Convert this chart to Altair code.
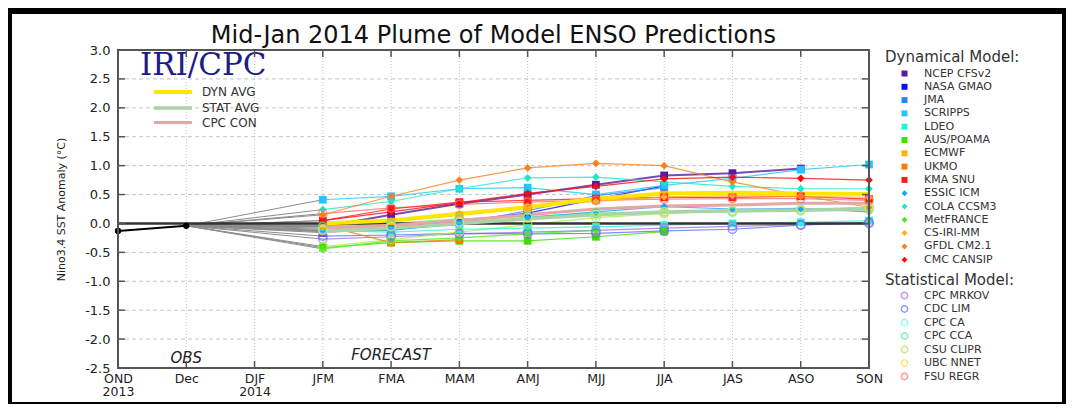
import altair as alt
import pandas as pd

# ---------------- data ----------------
seasons = ["OND", "Dec", "DJF", "JFM", "FMA", "MAM", "AMJ", "MJJ", "JJA", "JAS", "ASO", "SON"]
fc_seasons = ["JFM", "FMA", "MAM", "AMJ", "MJJ", "JJA", "JAS", "ASO", "SON"]
obs_seasons = ["OND", "Dec"]
obs_values = [-0.13, -0.04]
y_ticks = [-2.5, -2.0, -1.5, -1.0, -0.5, 0.0, 0.5, 1.0, 1.5, 2.0, 2.5, 3.0]
title_text = "Mid-Jan 2014 Plume of Model ENSO Predictions"

v = None
dyn_models = ["NCEP CFSv2", "NASA GMAO", "JMA", "SCRIPPS", "LDEO", "AUS/POAMA", "ECMWF", "UKMO",
              "KMA SNU", "ESSIC ICM", "COLA CCSM3", "MetFRANCE", "CS-IRI-MM", "GFDL CM2.1", "CMC CANSIP"]
dyn_colors = ["#5b1a9e", "#0b0bff", "#2f80ff", "#22c4ff", "#2ff0d6", "#3fe000", "#ffb300", "#ff7a00",
              "#ff1a1a", "#1aa8ff", "#1ee8c4", "#4ae81e", "#ffb020", "#ff7f1e", "#ff0a0a"]
dyn_shapes = ["square"] * 9 + ["diamond"] * 6
ncep_cfsv2 = [-0.06, 0.15, 0.34, 0.50, 0.67, 0.83, 0.87, 0.95, v]
nasa_gmao = [-0.16, -0.06, 0.04, 0.18, 0.42, 0.65, v, v, v]
jma = [-0.13, -0.12, 0.00, 0.22, 0.48, 0.62, v, v, v]
scripps = [0.41, 0.47, 0.60, 0.62, 0.50, 0.66, 0.78, 0.93, 1.02]
ldeo = [-0.12, -0.15, -0.10, -0.08, -0.06, -0.03, 0.00, 0.02, 0.05]
aus_poama = [-0.42, -0.33, -0.30, -0.30, -0.23, -0.14, v, v, v]
ecmwf = [-0.04, 0.03, 0.14, 0.26, 0.40, 0.50, v, v, v]
ukmo = [-0.03, -0.33, -0.28, v, v, v, v, v, v]
kma_snu = [0.05, 0.25, 0.37, 0.40, 0.43, 0.45, 0.45, 0.47, 0.42]
essic_icm = [-0.14, -0.10, -0.02, 0.10, 0.20, 0.29, 0.25, 0.26, 0.20]
cola_ccsm3 = [0.24, 0.38, 0.60, 0.79, 0.80, 0.72, 0.64, 0.60, 0.60]
metfrance = [-0.44, -0.30, -0.25, -0.18, -0.12, v, v, v, v]
cs_iri_mm = [-0.05, 0.04, 0.17, 0.30, 0.38, 0.46, 0.48, 0.47, 0.45]
gfdl_cm21 = [0.15, 0.47, 0.75, 0.96, 1.04, 1.00, 0.72, 0.48, 0.28]
cmc_cansip = [0.05, 0.20, 0.36, 0.52, 0.64, 0.77, 0.80, 0.78, 0.75]
dyn_values = [ncep_cfsv2, nasa_gmao, jma, scripps, ldeo, aus_poama, ecmwf, ukmo, kma_snu,
              essic_icm, cola_ccsm3, metfrance, cs_iri_mm, gfdl_cm21, cmc_cansip]

stat_models = ["CPC MRKOV", "CDC LIM", "CPC CA", "CPC CCA", "CSU CLIPR", "UBC NNET", "FSU REGR"]
stat_colors = ["#a070e0", "#6070ff", "#70f0ff", "#40f0a0", "#a0f050", "#ffd850", "#ff7070"]
cpc_mrkov = [-0.27, -0.23, -0.18, -0.15, -0.12, -0.08, -0.05, -0.02, 0.00]
cdc_lim = [-0.22, -0.20, -0.17, -0.18, -0.17, -0.13, -0.10, -0.03, 0.02]
cpc_ca = [-0.10, -0.06, 0.02, 0.10, 0.15, 0.20, 0.22, 0.25, 0.28]
cpc_cca = [-0.05, 0.00, 0.08, 0.12, 0.18, 0.20, 0.20, 0.22, 0.25]
csu_clipr = [-0.40, -0.28, -0.15, -0.02, 0.10, 0.17, 0.22, 0.23, 0.28]
ubc_nnet = [-0.12, -0.05, 0.03, 0.10, 0.15, 0.20, 0.22, 0.23, 0.25]
fsu_regr = [0.17, 0.27, 0.33, 0.37, 0.40, 0.42, 0.43, 0.43, 0.40]
stat_values = [cpc_mrkov, cdc_lim, cpc_ca, cpc_cca, csu_clipr, ubc_nnet, fsu_regr]

avg_names = ["DYN AVG", "STAT AVG", "CPC CON"]
avg_colors = ["#ffe600", "#a8d4a8", "#e6a6a6"]
avg_widths = [4, 3, 2]
dyn_avg = [0.00, 0.05, 0.17, 0.28, 0.43, 0.52, 0.53, 0.52, 0.51]
stat_avg = [-0.14, -0.08, 0.00, 0.08, 0.15, 0.20, 0.22, 0.23, 0.25]
cpc_con = [-0.08, -0.03, 0.05, 0.15, 0.25, 0.30, 0.32, 0.35, 0.35]
avg_values = [dyn_avg, stat_avg, cpc_con]

# ---------------- tables ----------------
def long_table(names, values, colors):
    rows = []
    for n, vals, c in zip(names, values, colors):
        for s, val in zip(fc_seasons, vals):
            if val is not None:
                rows.append({"model": n, "season": s, "value": val, "col": c,
                             "w": 2.0 if n == "NCEP CFSv2" else 1.2})
    return pd.DataFrame(rows)

dyn_df = long_table(dyn_models, dyn_values, dyn_colors)
stat_df = long_table(stat_models, stat_values, stat_colors)
avg_df = long_table(avg_names, avg_values, avg_colors)

conn_rows = []
for n, vals in zip(dyn_models + stat_models + avg_names, dyn_values + stat_values + avg_values):
    conn_rows.append({"model": n, "season": obs_seasons[-1], "value": obs_values[-1]})
    conn_rows.append({"model": n, "season": fc_seasons[0], "value": vals[0]})
conn_df = pd.DataFrame(conn_rows)
obs_df = pd.DataFrame({"season": obs_seasons, "value": obs_values})

inner_seasons = seasons[1:-1]
inner_y = y_ticks[1:-1]
vgrid_df = pd.DataFrame({"season": inner_seasons, "lo": y_ticks[0], "hi": y_ticks[-1]})
hgrid_df = pd.DataFrame({"value": [t for t in inner_y if t != 0.0], "a": seasons[0], "b": seasons[-1]})
vtick_df = pd.DataFrame({"season": inner_seasons, "lo": y_ticks[0], "hi": y_ticks[-1]})
htick_df = pd.DataFrame({"value": inner_y, "a": seasons[0], "b": seasons[-1]})
zero_df = pd.DataFrame({"season": [seasons[0], seasons[-1]], "value": [0.0, 0.0]})
frame_df = pd.DataFrame({"a": [seasons[0]], "b": [seasons[-1]], "lo": [y_ticks[0]], "hi": [y_ticks[-1]]})
note_df = pd.DataFrame({"season": ["Dec", "FMA"], "value": [-2.33, -2.27], "t": ["OBS", "FORECAST"]})
logo_df = pd.DataFrame({"season": ["OND"], "value": [2.72], "t": ["IRI/CPC"]})
title_df = pd.DataFrame({"season": ["MAM"], "value": [3.0], "t": [title_text]})

# ---------------- encodings ----------------
W, H = 751, 318
xs = alt.Scale(type="point", domain=seasons, padding=0)
ys = alt.Scale(domain=[-2.5, 3.0], nice=False, zero=False)
x_axis = alt.Axis(title=None, labelAngle=0, ticks=False, domain=False, grid=False, zindex=2,
                  labelFontSize=12.5, labelColor="#222", labelPadding=4, labelBaseline="top",
                  labelLineHeight=13,
                  labelExpr="datum.value == 'OND' ? ['OND', '2013'] : (datum.value == 'DJF' ? ['DJF', '2014'] : datum.value)")
y_axis = alt.Axis(title="Nino3.4 SST Anomaly (°C)", values=y_ticks, ticks=False, domain=False, grid=False,
                  zindex=2, labelFontSize=13, labelColor="#222", labelPadding=8,
                  labelExpr="replace(format(datum.value, '.1f'), '\u2212', '-')",
                  titleFontSize=11, titleFontWeight="normal", titleColor="#222",
                  titleX=-57, titleY=H / 2, titleAngle=-90, titleAlign="center", titleBaseline="middle")

def X(f):
    return alt.X(f"{f}:N", scale=xs, axis=x_axis)

def Y(f):
    return alt.Y(f"{f}:Q", scale=ys, axis=y_axis)

# ---------------- layers ----------------
bg = alt.Chart(pd.DataFrame({"k": [0]})).mark_rect(color="white").encode(
    x=alt.value(-106), x2=alt.value(944), y=alt.value(-36), y2=alt.value(352))

title = alt.Chart(title_df).mark_text(fontSize=24, color="#111", align="center",
                                      baseline="alphabetic", dx=34, dy=-7).encode(
    x=X("season"), y=Y("value"), text="t:N")

vgrid = alt.Chart(vgrid_df).mark_rule(color="#c4c4c4", strokeDash=[1, 2], strokeWidth=1).encode(
    x=X("season"), y=Y("lo"), y2=alt.Y2("hi"))
hgrid = alt.Chart(hgrid_df).mark_rule(color="#c4c4c4", strokeDash=[4, 3], strokeWidth=1).encode(
    x=X("a"), x2=alt.X2("b"), y=Y("value"))

conn = alt.Chart(conn_df).mark_line(color="#8c8c8c", strokeWidth=1).encode(
    x=X("season"), y=Y("value"), detail="model:N")

stat_lines = alt.Chart(stat_df).mark_line(opacity=0.8).encode(
    x=X("season"), y=Y("value"), detail="model:N",
    color=alt.Color("col:N", scale=None), strokeWidth=alt.StrokeWidth("w:Q", scale=None))
dyn_lines = alt.Chart(dyn_df).mark_line(opacity=0.8).encode(
    x=X("season"), y=Y("value"), detail="model:N",
    color=alt.Color("col:N", scale=None), strokeWidth=alt.StrokeWidth("w:Q", scale=None))

avg_legend = alt.Legend(title=None, orient="none", legendX=34, legendY=35, symbolType="M-3.8,0L3.8,0",
                        symbolSize=100, symbolStrokeWidth=3, symbolOffset=14, labelOffset=22,
                        rowPadding=1, labelFontSize=12, labelColor="#333", padding=0)
avg_lines = alt.Chart(avg_df).mark_line().encode(
    x=X("season"), y=Y("value"),
    color=alt.Color("model:N", scale=alt.Scale(domain=avg_names, range=avg_colors), legend=avg_legend),
    strokeWidth=alt.StrokeWidth("model:N", scale=alt.Scale(domain=avg_names, range=avg_widths), legend=None))

zero = alt.Chart(zero_df).mark_line(color="#333333", strokeWidth=2.5).encode(x=X("season"), y=Y("value"))

dyn_legend = alt.Legend(title="Dynamical Model:", orient="right", offset=8, symbolOffset=14,
                        labelOffset=14, rowPadding=1.3, symbolSize=36,
                        titleFontSize=15, titleFontWeight="normal", titleColor="#333",
                        labelFontSize=11, labelColor="#333", padding=0, titlePadding=3)
dyn_pts = alt.Chart(dyn_df).mark_point(filled=True, size=60, opacity=1).encode(
    x=X("season"), y=Y("value"),
    color=alt.Color("model:N", scale=alt.Scale(domain=dyn_models, range=dyn_colors), legend=dyn_legend),
    shape=alt.Shape("model:N", scale=alt.Scale(domain=dyn_models, range=dyn_shapes), legend=dyn_legend))

stat_legend = alt.Legend(title="Statistical Model:", orient="right", offset=8, symbolOffset=14,
                         labelOffset=14, rowPadding=0.5, symbolSize=40, symbolStrokeWidth=1.5,
                         titleFontSize=15, titleFontWeight="normal", titleColor="#333",
                         labelFontSize=11, labelColor="#333", padding=0, titlePadding=2)
stat_pts = alt.Chart(stat_df).mark_point(filled=False, size=70, strokeWidth=1.5, shape="circle").encode(
    x=X("season"), y=Y("value"),
    color=alt.Color("model:N", scale=alt.Scale(domain=stat_models, range=stat_colors), legend=stat_legend))

obs_line = alt.Chart(obs_df).mark_line(color="black", strokeWidth=2).encode(x=X("season"), y=Y("value"))
obs_pts = alt.Chart(obs_df).mark_point(filled=True, color="black", size=40, opacity=1).encode(
    x=X("season"), y=Y("value"))

notes = alt.Chart(note_df).mark_text(fontStyle="italic", fontSize=15, color="#222", baseline="middle").encode(
    x=X("season"), y=Y("value"), text="t:N")
logo = alt.Chart(logo_df).mark_text(font="DejaVu Serif", fontSize=31, color="#1c1c8a", align="left",
                                    baseline="middle", dx=22).encode(x=X("season"), y=Y("value"), text="t:N")

ticks_top = alt.Chart(vtick_df).mark_rule(color="#555", strokeWidth=1.5, y2Offset=7).encode(
    x=X("season"), y=Y("hi"), y2=alt.Y2("hi"))
ticks_bot = alt.Chart(vtick_df).mark_rule(color="#555", strokeWidth=1.5, y2Offset=-7).encode(
    x=X("season"), y=Y("lo"), y2=alt.Y2("lo"))
ticks_left = alt.Chart(htick_df).mark_rule(color="#555", strokeWidth=1.5, x2Offset=7).encode(
    x=X("a"), x2=alt.X2("a"), y=Y("value"))
ticks_right = alt.Chart(htick_df).mark_rule(color="#555", strokeWidth=1.5, x2Offset=-7).encode(
    x=X("b"), x2=alt.X2("b"), y=Y("value"))

frame = alt.Chart(frame_df).mark_rect(filled=False, color="#555", strokeWidth=2).encode(
    x=X("a"), x2=alt.X2("b"), y=Y("lo"), y2=alt.Y2("hi"))

chart = alt.layer(
    bg, title, vgrid, hgrid, conn, stat_lines, dyn_lines, zero, avg_lines, dyn_pts, stat_pts,
    obs_line, obs_pts, notes, logo, ticks_top, ticks_bot, ticks_left, ticks_right, frame
).resolve_scale(
    color="independent", shape="independent", strokeWidth="independent"
).properties(
    width=W, height=H,
    padding={"left": 110, "top": 42, "right": 197, "bottom": 36},
    autosize=alt.AutoSizeParams(type="none"),
    background="black",
).configure(font="DejaVu Sans").configure_view(strokeWidth=0)

chart.save("out.html", embed_options={"renderer": "svg", "actions": False})
